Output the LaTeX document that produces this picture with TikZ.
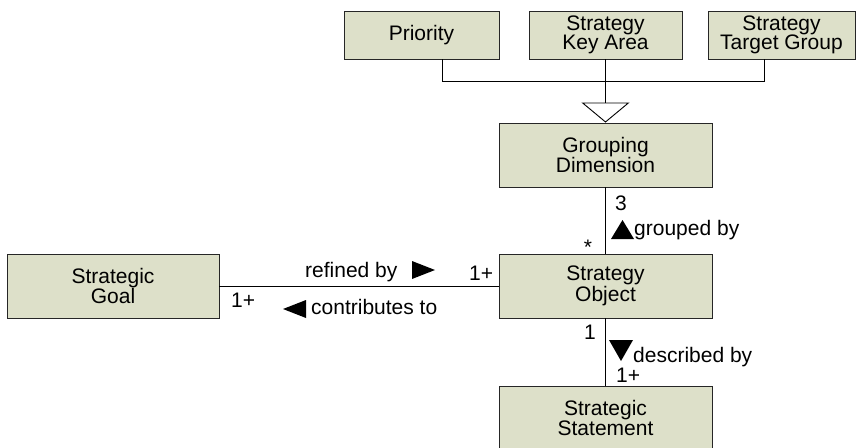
\documentclass[tikz,border=0pt]{standalone}
\usepackage{fontspec}
\setmainfont{Liberation Sans}
\usetikzlibrary{arrows.meta}

\definecolor{classfill}{RGB}{221,224,201}

\tikzset{
  umlclass/.style={draw=black!85, fill=classfill, line width=0.9pt,
    align=center, inner sep=0pt, minimum height=64pt,
    font=\fontsize{21}{19.5}\selectfont},
  link/.style={draw=black, line width=0.9pt},
  lbl/.style={inner sep=0pt, font=\fontsize{21}{19.5}\selectfont},
}

\begin{document}
\begin{tikzpicture}[x=1pt,y=-1pt]
\useasboundingbox (0,0) rectangle (856,447);

% classes
\node[umlclass, minimum width=155pt, minimum height=48pt] (prio)    at (421.5,35) {Priority};
\node[umlclass, minimum width=153pt, minimum height=48pt] (keyarea) at (605.5,35) {Strategy\\Key Area};
\node[umlclass, minimum width=147pt, minimum height=48pt] (target)  at (781.5,35) {Strategy\\Target Group};
\node[umlclass, minimum width=213pt] (grouping)  at (605.5,155) {Grouping\\Dimension};
\node[umlclass, minimum width=213pt] (object)    at (605.5,286) {Strategy\\Object};
\node[umlclass, minimum width=212pt] (goal)      at (113,286)   {Strategic\\Goal};
\node[umlclass, minimum width=213pt] (statement) at (605.5,418) {Strategic\\Statement};

% generalisation
\coordinate (joinL) at (442,81);
\coordinate (joinR) at (764,81);
\draw[link] (prio.south -| joinL) -- (joinL) -- (joinR) -- (target.south -| joinR);
\draw[link, -{Triangle[open, length=20pt, width=48pt]}] (keyarea.south) -- (grouping.north);

% associations
\draw[link] (grouping.south) -- (object.north);
\draw[link] (goal.east) -- (object.west);
\draw[link] (object.south) -- (statement.north);

%------- grouped by
\node[lbl] (m3) at (621,203) {3};
\node[lbl, anchor=base] (mstar) at (588,254) {*};
\fill (611,239) -- (634,239) -- (622.5,220) -- cycle;
\node[lbl, anchor=base west] (grp) at (634,235) {grouped by};

%------- refined by / contributes to
\node[lbl, anchor=base west] (ref) at (305,277) {refined by};
\fill (412,261) -- (412,279) -- (435,270) -- cycle;
\node[lbl, anchor=base west] (m1a) at (469,280) {1+};
\node[lbl, anchor=base west] (m1b) at (231,307) {1+};
\fill (306,300) -- (306,318) -- (283,309) -- cycle;
\node[lbl, anchor=base west] (contr) at (311,314) {contributes to};

%------- described by
\node[lbl, anchor=base] (m1) at (590,339) {1};
\fill (609,340) -- (633,340) -- (621,361) -- cycle;
\node[lbl, anchor=base west] (descr) at (633,362) {described by};
\node[lbl, anchor=base west] (m1c) at (616,382) {1+};

\end{tikzpicture}
\end{document}
